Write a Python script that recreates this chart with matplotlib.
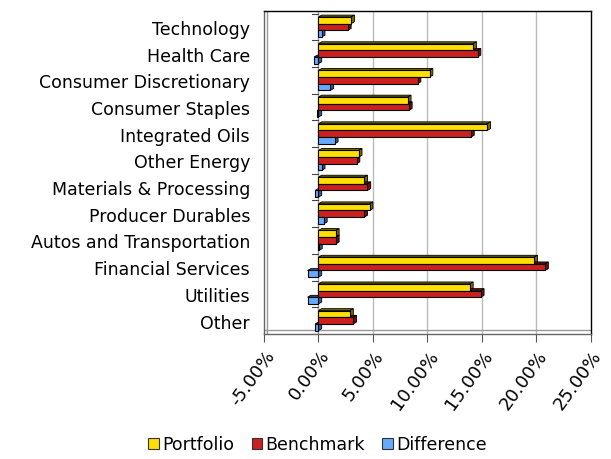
import matplotlib.pyplot as plt
import numpy as np
from matplotlib.patches import Polygon, Rectangle
from matplotlib.ticker import FuncFormatter

categories = ['Technology', 'Health Care', 'Consumer Discretionary', 'Consumer Staples',
              'Integrated Oils', 'Other Energy', 'Materials & Processing', 'Producer Durables',
              'Autos and Transportation', 'Financial Services', 'Utilities', 'Other']
portfolio = [3.0, 14.2, 10.2, 8.2, 15.5, 3.7, 4.2, 4.7, 1.6, 19.8, 13.9, 2.9]
benchmark = [2.7, 14.6, 9.1, 8.3, 14.0, 3.5, 4.5, 4.2, 1.6, 20.8, 14.9, 3.2]
difference = [0.3, -0.4, 1.1, -0.1, 1.5, 0.3, -0.3, 0.5, 0.05, -1.0, -1.0, -0.3]
series = ['Portfolio', 'Benchmark', 'Difference']
colors = ['#FFE000', '#CC1F1F', '#66AAFF']
dark = ['#7A6A00', '#6E0F0F', '#2E5A95']

plt.rcParams['font.family'] = 'DejaVu Sans'

fig = plt.figure(figsize=(6.11, 4.60), dpi=100)
ax = fig.add_axes([0.432, 0.272, 0.535, 0.702])

y = np.arange(len(categories))
h = 0.25
d, e = 0.3, 0.07  # depth of the fake 3d faces

for k, vals in enumerate([portfolio, benchmark, difference]):
    off = (k - 1) * h
    for i, v in enumerate(vals):
        yc = y[i] + off
        top = yc - h / 2
        bot = yc + h / 2
        lo, hi = min(0, v), max(0, v)
        # top face
        ax.add_patch(Polygon([(lo, top), (lo + d, top - e), (hi + d, top - e), (hi, top)],
                             closed=True, fc=dark[k], ec='black', lw=0.6, zorder=3))
        # end face
        ax.add_patch(Polygon([(hi, top), (hi + d, top - e), (hi + d, bot - e), (hi, bot)],
                             closed=True, fc=dark[k], ec='black', lw=0.6, zorder=3))
        ax.add_patch(Rectangle((lo, top), hi - lo, h, fc=colors[k], ec='black',
                               lw=0.8, zorder=4))

ymax = len(categories) - 0.5
ax.set_xlim(-5, 25)
ax.set_ylim(ymax, -0.6)
ax.set_xticks(np.arange(-5, 26, 5))
ax.xaxis.set_major_formatter(FuncFormatter(lambda v, p: '%.2f%%' % v))
for lab in ax.get_xticklabels():
    lab.set_rotation(54)
    lab.set_ha('right')
    lab.set_va('top')
    lab.set_rotation_mode('anchor')
ax.tick_params(axis='x', labelsize=13, length=6, color='#555555', pad=3)

ax.set_yticks(y)
ax.set_yticklabels(categories, fontsize=12.5)
ax.tick_params(axis='y', length=0, pad=10)

# back wall grid
for g in [5, 10, 15, 20]:
    ax.axvline(g, color='#BBBBBB', lw=1, zorder=1)
# category axis at zero with boundary ticks
ax.axvline(0, color='#999999', lw=1, zorder=2)
for b in np.arange(-0.5, len(categories), 1):
    ax.plot([-0.6, 0], [b, b], color='#444444', lw=0.8, zorder=2)
# left wall and floor
ax.axvline(-4.7, color='#999999', lw=1, zorder=1)
ax.axhline(ymax - 0.15, color='#999999', lw=1, zorder=1)

for s in ax.spines.values():
    s.set_color('black')
    s.set_linewidth(1)
ax.spines['bottom'].set_color('#666666')
ax.spines['left'].set_color('#666666')

handles = [Rectangle((0, 0), 1, 1, fc=c, ec='#333333', lw=0.8) for c in colors]
fig.legend(handles, series, loc='lower center', bbox_to_anchor=(0.52, -0.022), ncol=3,
           frameon=False, fontsize=12.5, handlelength=0.6, handleheight=0.6,
           handletextpad=0.2, columnspacing=1.0)

fig.savefig('out.png', dpi=100)
